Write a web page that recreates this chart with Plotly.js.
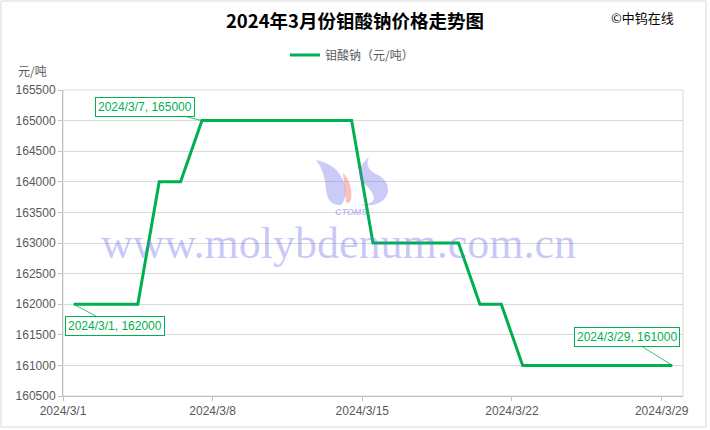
<!DOCTYPE html>
<html>
<head>
<meta charset="utf-8">
<script src="https://cdn.plot.ly/plotly-3.0.1.min.js"></script>
<style>html,body{margin:0;padding:0;background:#fff;}#chart{width:710px;height:430px;}</style>
</head>
<body>
<div id="chart"></div>
<script>
// ---- data ----
const dates = ['2024-03-01','2024-03-04','2024-03-05','2024-03-06','2024-03-07','2024-03-08',
  '2024-03-11','2024-03-12','2024-03-13','2024-03-14','2024-03-15',
  '2024-03-18','2024-03-19','2024-03-20','2024-03-21','2024-03-22',
  '2024-03-25','2024-03-26','2024-03-27','2024-03-28','2024-03-29'];
const prices = [162000,162000,164000,164000,165000,165000,
  165000,165000,165000,165000,163000,
  163000,163000,162000,162000,161000,
  161000,161000,161000,161000,161000];
const tickDates = ['2024-03-01','2024-03-08','2024-03-15','2024-03-22','2024-03-29'];
const tickLabels = ['2024/3/1','2024/3/8','2024/3/15','2024/3/22','2024/3/29'];
const yTicks = [160500,161000,161500,162000,162500,163000,163500,164000,164500,165000,165500];
const labelIdx = [0, 4, 20];
const seriesName = '钼酸钠（元/吨）';
const titleText = '2024年3月份钼酸钠价格走势图';

// ---- layout helpers (pixel -> paper, decoration only) ----
const L = 63, R = 683, T = 90, B = 396;
const px = x => (x - L) / (R - L);
const py = y => (B - y) / (B - T);
function path(pts) {
  return pts.map(s => {
    if (typeof s === 'string') return s;
    return px(s[0]).toFixed(4) + ',' + py(s[1]).toFixed(4);
  }).join(' ');
}

function fmtDate(d) {
  const p = d.split('-');
  return p[0] + '/' + (+p[1]) + '/' + (+p[2]);
}

const green = '#00B050';
const labelOffsets = [[41, 22], [-57, -14], [-45, -28]];
const annotations = labelIdx.map((i, k) => ({
  x: dates[i] + ' 12:00', y: prices[i], xref: 'x', yref: 'y',
  text: fmtDate(dates[i]) + ', ' + prices[i],
  showarrow: true, arrowhead: 0, arrowwidth: 0.8, arrowcolor: green,
  ax: labelOffsets[k][0], ay: labelOffsets[k][1],
  bordercolor: green, borderwidth: 1, borderpad: 2, bgcolor: '#ffffff',
  font: {family: 'Liberation Sans, Arial, sans-serif', size: 12, color: green}
}));

annotations.push(
  {xref: 'paper', yref: 'paper', x: px(642), y: py(18), xanchor: 'center', yanchor: 'middle',
   text: '©中钨在线', showarrow: false,
   font: {family: 'Noto Sans CJK SC', size: 13, color: '#000'}},
  {xref: 'paper', yref: 'paper', x: px(32), y: py(70), xanchor: 'center', yanchor: 'middle',
   text: '元/吨', showarrow: false,
   font: {family: 'Noto Sans CJK SC', size: 12, color: '#595959'}},
  {xref: 'paper', yref: 'paper', x: px(338), y: py(243), xanchor: 'center', yanchor: 'middle',
   text: 'www.molybdenum.com.cn', showarrow: false,
   font: {family: 'Liberation Serif, Times New Roman, serif', size: 44, color: 'rgba(110,110,235,0.38)'}},
  {xref: 'paper', yref: 'paper', x: px(351), y: py(212), xanchor: 'center', yanchor: 'middle',
   text: '<b><i>CTOMS</i></b>', showarrow: false,
   font: {family: 'Liberation Sans, Arial, sans-serif', size: 9, color: 'rgba(110,110,235,0.45)'}}
);

const logoBlue = 'rgba(110,110,235,0.36)';
const shapes = [
  // outer chart border
  {type: 'rect', xref: 'paper', yref: 'paper', x0: px(1), x1: px(706), y0: py(427), y1: py(1),
   line: {color: '#d9d9d9', width: 1}, layer: 'below'},
  // plot frame
  {type: 'rect', xref: 'paper', yref: 'paper', x0: 0, x1: 1, y0: 0, y1: 1,
   line: {color: '#d9d9d9', width: 1}, layer: 'below'},
  // logo: left flame
  {type: 'path', xref: 'paper', yref: 'paper', layer: 'above',
   path: path(['M', [316,160], 'Q', [336,164], [343,180], 'Q', [349,196], [341,205],
               'Q', [328,206], [326,190], 'Q', [325,171], [316,160], 'Z']),
   fillcolor: logoBlue, line: {width: 0}},
  // logo: pink drop
  {type: 'path', xref: 'paper', yref: 'paper', layer: 'above',
   path: path(['M', [343,173], 'Q', [353,182], [351,200], 'Q', [349,205], [346,202],
               'Q', [344,188], [343,173], 'Z']),
   fillcolor: 'rgba(240,120,120,0.45)', line: {width: 0}},
  // logo: right swoosh
  {type: 'path', xref: 'paper', yref: 'paper', layer: 'above',
   path: path(['M', [369,157], 'Q', [354,170], [362,182], 'Q', [373,190], [374,199],
               'Q', [372,205], [358,205], 'Q', [384,208], [388,192], 'Q', [389,180], [376,174],
               'Q', [364,168], [369,157], 'Z']),
   fillcolor: logoBlue, line: {width: 0}}
];

const trace = {
  x: dates, y: prices, type: 'scatter', mode: 'lines', name: seriesName,
  xperiod: 86400000, xperiodalignment: 'middle',
  line: {color: green, width: 3}
};

const layout = {
  width: 710, height: 430,
  margin: {l: L, r: 710 - R, t: T, b: 430 - B},
  paper_bgcolor: '#ffffff', plot_bgcolor: '#ffffff',
  font: {family: 'Liberation Sans, Arial, sans-serif', size: 12, color: '#595959'},
  title: {text: '<b>' + titleText + '</b>', x: 0.5, xref: 'container', xanchor: 'center',
          y: 1 - 22 / 430, yref: 'container', yanchor: 'middle',
          font: {family: 'Noto Sans CJK SC', size: 18.5, color: '#000'}},
  showlegend: true,
  legend: {orientation: 'h', x: px(352), xanchor: 'center', y: py(55), yanchor: 'middle',
           font: {family: 'Noto Sans CJK SC', size: 12, color: '#595959'}, bgcolor: 'rgba(0,0,0,0)'},
  xaxis: {type: 'date', range: ['2024-03-01', '2024-03-30'],
          tickmode: 'array', tickvals: tickDates, ticktext: tickLabels,
          ticks: 'outside', ticklen: 4, tickcolor: '#bfbfbf',
          showgrid: false, zeroline: false, showline: true, linecolor: '#bfbfbf', linewidth: 1,
          tickfont: {size: 12, color: '#595959'}},
  yaxis: {range: [160500, 165500], tickmode: 'array', tickvals: yTicks, tickformat: 'd',
          ticks: 'outside', ticklen: 4, tickcolor: '#bfbfbf',
          showgrid: true, gridcolor: '#d9d9d9', gridwidth: 1, zeroline: false,
          showline: true, linecolor: '#bfbfbf', linewidth: 1,
          tickfont: {size: 12, color: '#595959'}},
  annotations: annotations,
  shapes: shapes
};

Plotly.newPlot('chart', [trace], layout, {staticPlot: true, displayModeBar: false});
</script>
</body>
</html>
